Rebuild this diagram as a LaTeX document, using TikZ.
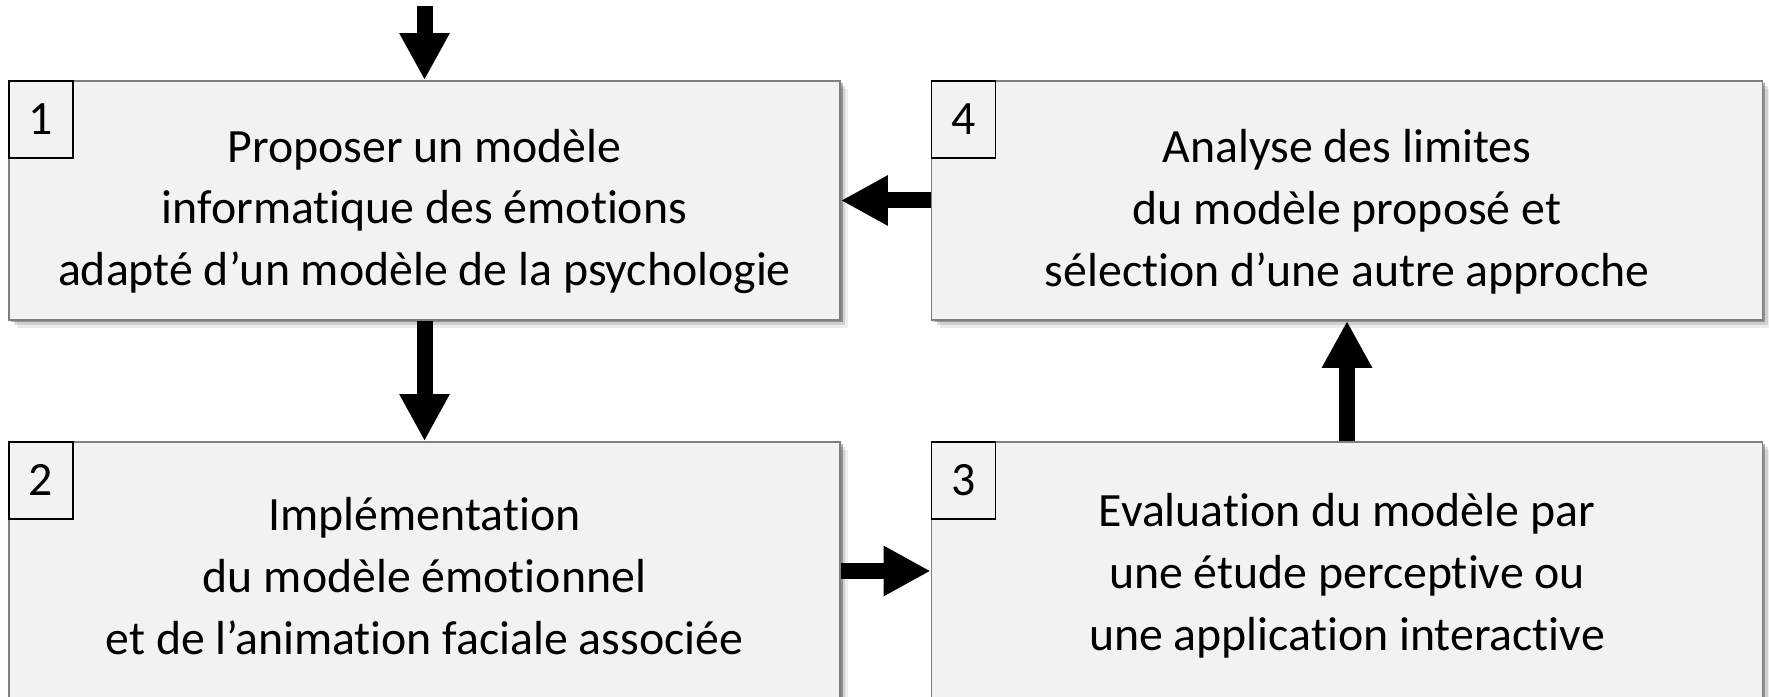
\documentclass[tikz,border=0pt]{standalone}
\usepackage{fontspec}
\setmainfont{Carlito}[Ligatures=NoCommon]
\usetikzlibrary{positioning,arrows.meta,shadows}
\definecolor{stfill}{HTML}{F2F2F2}
\definecolor{stline}{HTML}{7F7F7F}

\begin{document}
\begin{tikzpicture}[font=\fontsize{13.6}{17.6}\selectfont,
  stage/.style={draw=stline,fill=stfill,line width=0.5pt,inner sep=0pt,
    minimum width=8.31cm,
    drop shadow={shadow xshift=0.08cm,shadow yshift=-0.08cm,opacity=0.07,fill=black},
    drop shadow={shadow xshift=0.05cm,shadow yshift=-0.05cm,opacity=0.12,fill=black},
    drop shadow={shadow xshift=0.025cm,shadow yshift=-0.025cm,opacity=0.3,fill=black}},
  stagetext/.style={align=center,inner sep=0pt},
  num/.style={draw=black,fill=stfill,line width=0.5pt,minimum width=0.64cm,
    minimum height=0.77cm,inner sep=0pt,anchor=north west},
  flow/.style={line width=0.16cm,-{Triangle[length=0.47cm,width=0.47cm]}}]
  \useasboundingbox (0,0) rectangle (17.69,-6.97);
  % the four stages
  \node[stage,minimum height=2.39cm] (s1) at (4.245,-2.005) {};
  \node[stage,minimum height=2.39cm] (s4) at (13.47,-2.005) {};
  \node[stage,minimum height=2.58cm] (s2) at (4.245,-5.71) {};
  \node[stage,minimum height=2.58cm] (s3) at (13.47,-5.71) {};
  \node[stagetext] (t1) at ([yshift=-0.11cm]s1.center)
    {Proposer un modèle\\informatique des émotions\\adapté d’un modèle de la psychologie};
  \node[stagetext] (t4) at ([yshift=-0.11cm]s4.center)
    {Analyse des limites\\du modèle proposé et\\sélection d’une autre approche};
  \node[stagetext] (t2) at ([yshift=-0.05cm]s2.center)
    {Implémentation\\du modèle émotionnel\\et de l’animation faciale associée};
  \node[stagetext] (t3) at ([yshift=-0.05cm]s3.center)
    {Evaluation du modèle par\\une étude perceptive ou\\une application interactive};
  \foreach \s/\n in {s1/1,s2/2,s3/3,s4/4}
    \node[num] (n\n) at (\s.north west) {\n};
  % connectors
  \coordinate (start) at (4.245,-0.06);
  \draw[flow] (start) -- (s1.north);
  \draw[flow] (s1.south) -- (s2.north);
  \draw[flow] (s2.east) -- (s3.west);
  \draw[flow] (s3.north) -- (s4.south);
  \draw[flow] (s4.west) -- (s1.east);
\end{tikzpicture}
\end{document}
